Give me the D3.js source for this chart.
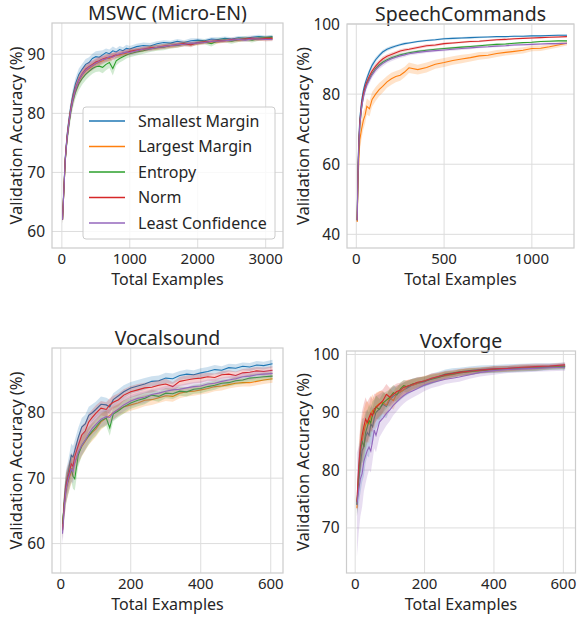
<!DOCTYPE html>
<html>
<head>
<meta charset="utf-8">
<script src="https://cdn.jsdelivr.net/npm/d3@7"></script>
<style>
  body { margin: 0; background: #fff; }
  svg { display: block; }
  text { font-family: "Noto Sans", "Open Sans", sans-serif; fill: #262626; }
</style>
</head>
<body>
<svg id="chart" width="577" height="617"></svg>
<script>
const methods = ['Smallest Margin', 'Largest Margin', 'Entropy', 'Norm', 'Least Confidence'];
const colors = ['#1f77b4', '#ff7f0e', '#2ca02c', '#d62728', '#9467bd'];

// MSWC (Micro-EN)
const mswcX = [10, 30, 50, 75, 100, 130, 160, 200, 250, 300, 350, 400, 450, 500, 550, 600, 650, 700, 750, 800, 850, 900, 950, 1000, 1100, 1200, 1300, 1400, 1500, 1600, 1700, 1800, 1900, 2000, 2100, 2200, 2300, 2400, 2500, 2600, 2700, 2800, 2900, 3000, 3100];
const mswcSmallest = [62.0, 67.5, 72.5, 76.0, 78.5, 81.0, 83.0, 85.0, 86.6, 87.5, 88.3, 88.6, 89.3, 89.6, 89.5, 89.9, 90.3, 90.1, 90.6, 90.4, 90.8, 90.6, 91.0, 90.9, 91.3, 91.5, 91.4, 91.8, 92.0, 91.9, 92.2, 92.0, 92.3, 92.4, 92.3, 92.6, 92.5, 92.7, 92.6, 92.8, 92.7, 92.9, 93.0, 92.9, 93.0];
const mswcLargest = [62.0, 67.0, 72.0, 75.5, 78.0, 80.5, 82.3, 84.0, 85.5, 86.5, 87.2, 87.6, 88.0, 88.4, 88.7, 88.9, 89.3, 89.3, 89.6, 89.8, 89.9, 90.1, 90.2, 90.4, 90.6, 90.8, 91.0, 91.1, 91.3, 91.4, 91.5, 91.7, 91.8, 91.8, 92.0, 92.1, 92.1, 92.3, 92.3, 92.4, 92.5, 92.5, 92.6, 92.5, 92.6];
const mswcEntropy = [62.0, 67.0, 72.0, 75.5, 77.8, 80.2, 82.0, 83.6, 85.0, 85.9, 86.6, 87.1, 87.6, 87.9, 88.0, 87.8, 88.3, 88.6, 87.6, 88.9, 89.3, 89.6, 89.9, 90.1, 90.4, 90.6, 90.9, 91.1, 91.2, 91.5, 91.5, 91.8, 91.7, 92.0, 92.1, 91.8, 92.3, 92.4, 92.2, 92.5, 92.6, 92.4, 92.7, 92.8, 92.9];
const mswcNorm = [62.0, 67.2, 72.3, 75.8, 78.2, 80.6, 82.4, 84.2, 85.7, 86.7, 87.5, 87.9, 88.3, 88.7, 88.9, 89.2, 89.4, 89.5, 89.7, 89.9, 90.0, 90.2, 90.3, 90.5, 90.7, 90.9, 91.1, 91.2, 91.4, 91.5, 91.7, 91.8, 91.6, 92.0, 92.1, 92.2, 92.3, 92.3, 92.5, 92.5, 92.6, 92.7, 92.6, 92.7, 92.7];
const mswcLeast = [62.0, 67.0, 72.1, 75.6, 78.0, 80.4, 82.2, 84.0, 85.6, 86.6, 87.3, 87.8, 88.1, 88.5, 88.8, 89.1, 89.2, 89.6, 89.5, 89.9, 90.1, 90.2, 90.4, 90.3, 90.6, 90.9, 90.9, 91.2, 91.3, 91.5, 91.6, 91.7, 91.9, 91.9, 92.0, 92.2, 92.2, 92.3, 92.4, 92.5, 92.4, 92.6, 92.6, 92.5, 92.5];
const mswcSmallestSd = [0.6, 1.2, 1.4, 1.4, 1.3, 1.2, 1.1, 1.0, 1.0, 0.9, 0.9, 0.9, 0.8, 0.9, 1.1, 0.8, 0.7, 0.7, 0.7, 0.6, 0.6, 0.6, 0.6, 0.5, 0.5, 0.5, 0.5, 0.4, 0.4, 0.4, 0.4, 0.4, 0.4, 0.3, 0.3, 0.3, 0.4, 0.3, 0.3, 0.3, 0.4, 0.3, 0.3, 0.3, 0.3];
const mswcLargestSd = [0.6, 1.0, 1.2, 1.2, 1.1, 1.0, 1.0, 0.9, 0.9, 0.8, 0.8, 0.7, 0.7, 0.7, 0.7, 0.6, 0.6, 0.6, 0.6, 0.5, 0.5, 0.5, 0.5, 0.5, 0.4, 0.4, 0.4, 0.4, 0.4, 0.4, 0.4, 0.4, 0.3, 0.3, 0.3, 0.3, 0.3, 0.3, 0.3, 0.3, 0.3, 0.3, 0.3, 0.3, 0.3];
const mswcEntropySd = [0.6, 1.2, 1.4, 1.4, 1.4, 1.3, 1.2, 1.1, 1.1, 1.0, 1.0, 0.9, 0.9, 0.9, 0.9, 1.0, 1.0, 0.9, 1.2, 0.8, 0.7, 0.7, 0.6, 0.6, 0.6, 0.5, 0.5, 0.5, 0.5, 0.5, 0.4, 0.4, 0.4, 0.4, 0.4, 0.5, 0.4, 0.4, 0.4, 0.4, 0.4, 0.4, 0.4, 0.3, 0.3];
const mswcNormSd = [0.6, 1.1, 1.2, 1.2, 1.1, 1.0, 1.0, 0.9, 0.9, 0.8, 0.8, 0.8, 0.7, 0.7, 0.7, 0.6, 0.6, 0.6, 0.6, 0.5, 0.5, 0.5, 0.5, 0.5, 0.4, 0.4, 0.4, 0.4, 0.4, 0.4, 0.4, 0.4, 0.4, 0.3, 0.3, 0.3, 0.3, 0.3, 0.3, 0.3, 0.3, 0.3, 0.3, 0.3, 0.3];
const mswcLeastSd = [0.6, 1.1, 1.3, 1.3, 1.2, 1.1, 1.0, 0.9, 0.9, 0.9, 0.8, 0.8, 0.8, 0.7, 0.7, 0.7, 0.6, 0.6, 0.6, 0.6, 0.5, 0.5, 0.5, 0.5, 0.5, 0.4, 0.4, 0.4, 0.4, 0.4, 0.4, 0.4, 0.4, 0.3, 0.3, 0.3, 0.3, 0.3, 0.3, 0.3, 0.3, 0.3, 0.3, 0.3, 0.3];

// SpeechCommands
const scX = [5, 10, 15, 20, 30, 40, 50, 60, 75, 90, 110, 130, 150, 175, 200, 225, 250, 275, 300, 350, 400, 450, 500, 550, 600, 650, 700, 750, 800, 850, 900, 950, 1000, 1050, 1100, 1150, 1200];
const scSmallest = [44.0, 60.0, 68.0, 73.0, 78.0, 81.0, 83.0, 84.5, 86.5, 88.2, 89.8, 91.0, 92.0, 92.8, 93.3, 93.7, 94.1, 94.4, 94.6, 95.0, 95.3, 95.5, 95.8, 95.9, 96.0, 96.1, 96.2, 96.3, 96.4, 96.4, 96.5, 96.5, 96.6, 96.6, 96.7, 96.8, 96.8];
const scLargest = [43.5, 55.0, 62.0, 67.0, 70.0, 72.5, 74.0, 76.5, 75.8, 78.5, 80.0, 81.3, 82.2, 83.5, 84.4, 85.0, 85.4, 86.3, 87.5, 87.0, 87.6, 88.5, 89.0, 89.6, 90.0, 90.4, 90.9, 91.1, 91.6, 91.9, 92.2, 92.5, 93.0, 93.1, 93.5, 94.0, 94.5];
const scEntropy = [44.0, 58.0, 66.0, 71.0, 76.0, 79.5, 81.5, 83.0, 84.5, 85.9, 87.3, 88.3, 89.1, 89.8, 90.4, 90.8, 91.2, 91.5, 91.8, 92.2, 92.5, 92.8, 93.0, 93.2, 93.4, 93.6, 93.8, 94.0, 94.2, 94.3, 94.5, 94.7, 94.8, 95.0, 95.1, 95.2, 95.2];
const scNorm = [44.0, 59.0, 67.0, 72.0, 77.0, 80.0, 82.0, 83.5, 85.2, 86.6, 88.0, 89.1, 90.0, 90.8, 91.3, 91.8, 92.3, 92.6, 92.8, 93.3, 93.8, 94.0, 94.4, 94.6, 94.8, 95.0, 95.1, 95.3, 95.5, 95.6, 95.8, 95.9, 96.0, 96.1, 96.2, 96.3, 96.4];
const scLeast = [44.0, 58.0, 66.0, 71.0, 76.0, 79.0, 81.0, 82.6, 84.1, 85.5, 86.9, 87.9, 88.7, 89.5, 90.1, 90.5, 90.9, 91.2, 91.5, 91.9, 92.2, 92.4, 92.6, 92.8, 93.0, 93.2, 93.4, 93.5, 93.7, 93.8, 94.0, 94.1, 94.2, 94.3, 94.4, 94.4, 94.5];
const scSmallestSd = [0.5, 1.5, 1.5, 1.3, 1.2, 1.0, 0.9, 0.9, 0.8, 0.8, 0.7, 0.6, 0.6, 0.5, 0.5, 0.4, 0.4, 0.4, 0.3, 0.3, 0.3, 0.3, 0.3, 0.3, 0.3, 0.3, 0.3, 0.2, 0.2, 0.2, 0.2, 0.2, 0.2, 0.2, 0.2, 0.2, 0.2];
const scLargestSd = [0.5, 2.5, 3.0, 3.0, 2.8, 2.6, 2.4, 2.3, 2.2, 2.1, 2.0, 1.9, 1.8, 1.7, 1.7, 1.6, 1.6, 1.5, 1.5, 1.4, 1.4, 1.3, 1.3, 1.2, 1.2, 1.1, 1.1, 1.0, 1.0, 0.9, 0.9, 0.9, 0.8, 0.8, 0.7, 0.7, 0.6];
const scEntropySd = [0.5, 1.5, 1.5, 1.4, 1.2, 1.1, 1.0, 0.9, 0.8, 0.8, 0.7, 0.7, 0.6, 0.6, 0.5, 0.5, 0.5, 0.4, 0.4, 0.4, 0.4, 0.3, 0.3, 0.3, 0.3, 0.3, 0.3, 0.3, 0.3, 0.3, 0.2, 0.2, 0.2, 0.2, 0.2, 0.2, 0.2];
const scNormSd = [0.5, 1.5, 1.5, 1.4, 1.3, 1.1, 1.0, 0.9, 0.9, 0.8, 0.8, 0.7, 0.7, 0.6, 0.6, 0.5, 0.5, 0.5, 0.4, 0.4, 0.4, 0.4, 0.3, 0.3, 0.3, 0.3, 0.3, 0.3, 0.3, 0.3, 0.3, 0.2, 0.2, 0.2, 0.2, 0.2, 0.2];
const scLeastSd = [0.5, 1.6, 1.6, 1.5, 1.4, 1.2, 1.1, 1.0, 1.0, 0.9, 0.9, 0.8, 0.8, 0.7, 0.7, 0.6, 0.6, 0.6, 0.5, 0.5, 0.5, 0.4, 0.4, 0.4, 0.4, 0.4, 0.3, 0.3, 0.3, 0.3, 0.3, 0.3, 0.3, 0.3, 0.3, 0.3, 0.3];

// Vocalsound
const vsX = [5, 10, 15, 20, 25, 30, 35, 40, 50, 60, 70, 80, 90, 100, 115, 130, 140, 150, 165, 180, 200, 220, 240, 260, 280, 300, 320, 340, 360, 380, 400, 420, 440, 460, 480, 500, 520, 540, 560, 580, 605];
const vsSmallest = [62.0, 66.5, 69.3, 70.5, 72.0, 73.5, 73.2, 74.2, 76.2, 77.8, 78.3, 79.6, 80.0, 80.5, 81.3, 81.2, 80.9, 82.0, 82.6, 83.2, 83.8, 84.1, 84.4, 84.8, 84.9, 85.3, 85.2, 85.7, 85.9, 85.8, 86.1, 86.3, 86.6, 86.5, 86.9, 86.8, 87.1, 87.0, 87.3, 87.2, 87.5];
const vsLargest = [62.5, 66.0, 68.2, 69.3, 70.2, 71.0, 71.6, 72.3, 73.8, 74.8, 75.6, 76.4, 77.0, 77.5, 78.6, 79.2, 79.6, 80.0, 80.5, 80.9, 81.2, 81.5, 81.9, 82.0, 82.3, 82.6, 82.5, 83.0, 83.2, 83.3, 83.5, 83.7, 84.0, 84.1, 84.3, 84.5, 84.6, 84.6, 84.8, 85.0, 85.2];
const vsEntropy = [63.0, 66.0, 68.5, 69.5, 70.5, 71.5, 70.3, 69.9, 73.5, 75.0, 75.8, 76.5, 77.2, 77.8, 78.8, 79.2, 77.7, 79.8, 80.3, 80.9, 81.5, 81.9, 82.2, 82.7, 82.5, 83.0, 82.9, 83.3, 83.2, 83.6, 83.7, 84.0, 84.2, 84.5, 84.6, 84.9, 85.0, 85.3, 85.4, 85.5, 85.6];
const vsNorm = [62.0, 66.0, 68.8, 70.0, 71.0, 72.2, 71.8, 73.3, 75.0, 76.6, 77.2, 78.6, 79.3, 79.9, 80.7, 80.5, 81.2, 81.6, 82.0, 82.7, 83.2, 83.5, 83.8, 83.9, 84.2, 84.4, 84.0, 84.8, 85.0, 85.2, 85.3, 85.5, 85.4, 85.8, 85.9, 85.7, 86.1, 86.2, 86.4, 86.3, 86.5];
const vsLeast = [61.5, 65.5, 68.3, 69.5, 70.5, 71.4, 71.0, 72.4, 74.0, 75.0, 75.8, 76.8, 77.6, 78.2, 79.0, 79.4, 79.3, 80.0, 80.6, 81.2, 81.8, 82.2, 82.4, 82.8, 83.0, 83.3, 83.5, 83.6, 83.8, 84.0, 84.1, 84.4, 84.5, 84.8, 85.0, 85.2, 85.5, 85.6, 85.8, 85.9, 86.0];
const vsSmallestSd = [1.5, 2.0, 2.0, 1.9, 1.8, 1.8, 1.7, 1.6, 1.5, 1.4, 1.4, 1.3, 1.3, 1.2, 1.2, 1.1, 1.1, 1.0, 1.0, 1.0, 0.9, 0.9, 0.9, 0.8, 0.8, 0.8, 0.8, 0.7, 0.7, 0.7, 0.7, 0.7, 0.7, 0.6, 0.6, 0.6, 0.6, 0.6, 0.6, 0.6, 0.6];
const vsLargestSd = [1.5, 2.2, 2.2, 2.1, 2.0, 1.9, 1.8, 1.7, 1.6, 1.5, 1.4, 1.3, 1.3, 1.2, 1.2, 1.1, 1.1, 1.0, 1.0, 1.0, 0.9, 0.9, 0.9, 0.8, 0.8, 0.8, 0.8, 0.8, 0.7, 0.7, 0.7, 0.7, 0.7, 0.7, 0.6, 0.6, 0.6, 0.6, 0.6, 0.6, 0.6];
const vsEntropySd = [1.5, 2.2, 2.3, 2.2, 2.1, 2.0, 1.9, 1.8, 1.7, 1.6, 1.5, 1.4, 1.3, 1.3, 1.2, 1.2, 1.2, 1.1, 1.0, 1.0, 0.9, 0.9, 0.9, 0.8, 0.8, 0.8, 0.8, 0.7, 0.7, 0.7, 0.7, 0.7, 0.7, 0.6, 0.6, 0.6, 0.6, 0.6, 0.6, 0.6, 0.6];
const vsNormSd = [1.5, 2.0, 2.0, 1.9, 1.8, 1.7, 1.7, 1.6, 1.5, 1.4, 1.4, 1.3, 1.2, 1.2, 1.1, 1.1, 1.0, 1.0, 1.0, 0.9, 0.9, 0.9, 0.8, 0.8, 0.8, 0.8, 0.7, 0.7, 0.7, 0.7, 0.7, 0.6, 0.6, 0.6, 0.6, 0.6, 0.6, 0.6, 0.6, 0.6, 0.6];
const vsLeastSd = [1.8, 2.2, 2.2, 2.1, 2.0, 1.9, 1.8, 1.7, 1.6, 1.5, 1.4, 1.4, 1.3, 1.3, 1.2, 1.2, 1.1, 1.1, 1.0, 1.0, 0.9, 0.9, 0.9, 0.8, 0.8, 0.8, 0.8, 0.7, 0.7, 0.7, 0.7, 0.7, 0.7, 0.6, 0.6, 0.6, 0.6, 0.6, 0.6, 0.6, 0.6];

// Voxforge
const vfX = [5, 10, 15, 20, 25, 30, 35, 40, 45, 50, 55, 60, 70, 80, 90, 100, 110, 120, 130, 140, 150, 165, 180, 200, 220, 240, 260, 280, 300, 330, 360, 400, 440, 480, 520, 560, 605];
const vfSmallest = [74.0, 78.0, 81.0, 83.4, 84.0, 85.7, 86.5, 86.0, 88.0, 87.5, 89.0, 90.0, 90.6, 91.4, 91.0, 92.2, 92.8, 93.1, 93.5, 93.9, 94.2, 94.7, 95.0, 95.3, 95.8, 96.2, 96.6, 96.8, 97.0, 97.2, 97.4, 97.5, 97.6, 97.7, 97.8, 97.9, 98.0];
const vfLargest = [73.4, 79.5, 83.5, 85.0, 86.5, 87.8, 88.5, 88.0, 89.5, 90.3, 89.8, 91.0, 91.5, 91.7, 91.2, 92.5, 92.0, 93.2, 93.5, 93.9, 94.5, 94.7, 95.0, 95.5, 95.8, 96.1, 96.3, 96.5, 96.8, 97.0, 97.2, 97.4, 97.5, 97.6, 97.7, 97.8, 97.9];
const vfEntropy = [74.0, 79.0, 83.0, 85.1, 84.0, 86.5, 87.5, 88.6, 88.2, 89.6, 90.0, 90.9, 90.5, 91.6, 92.1, 92.6, 93.4, 93.0, 94.0, 94.6, 94.4, 94.9, 95.1, 95.4, 95.7, 96.0, 96.4, 96.6, 96.8, 97.0, 97.2, 97.4, 97.5, 97.6, 97.7, 97.8, 97.9];
const vfNorm = [74.5, 80.5, 84.0, 86.0, 87.5, 88.8, 88.2, 89.1, 89.8, 89.4, 90.6, 90.8, 91.4, 92.0, 93.1, 92.6, 93.1, 93.6, 93.8, 94.3, 94.5, 94.8, 95.2, 95.4, 95.9, 96.2, 96.5, 96.7, 96.9, 97.1, 97.3, 97.5, 97.6, 97.8, 97.9, 98.0, 98.2];
const vfLeast = [74.0, 76.5, 78.5, 79.4, 81.5, 82.5, 83.4, 84.0, 83.3, 85.0, 86.9, 86.0, 88.3, 89.0, 89.8, 90.4, 91.2, 91.8, 92.4, 92.9, 93.3, 93.7, 94.1, 94.7, 95.1, 95.4, 95.7, 95.9, 96.1, 96.5, 96.9, 97.2, 97.4, 97.5, 97.6, 97.7, 97.8];
const vfSmallestSd = [2.0, 4.0, 5.0, 5.5, 5.0, 4.5, 4.0, 3.8, 3.5, 3.2, 3.0, 2.8, 2.5, 2.2, 2.0, 1.8, 1.6, 1.5, 1.4, 1.3, 1.2, 1.1, 1.0, 0.9, 0.9, 0.8, 0.8, 0.8, 0.7, 0.7, 0.7, 0.7, 0.7, 0.7, 0.7, 0.6, 0.6];
const vfLargestSd = [1.5, 3.5, 4.0, 4.2, 4.0, 3.8, 3.5, 3.3, 3.0, 2.8, 2.6, 2.4, 2.2, 2.0, 1.8, 1.6, 1.5, 1.4, 1.3, 1.2, 1.1, 1.0, 0.9, 0.8, 0.8, 0.7, 0.7, 0.6, 0.6, 0.6, 0.5, 0.5, 0.5, 0.5, 0.5, 0.4, 0.4];
const vfEntropySd = [1.5, 3.0, 3.5, 3.5, 3.3, 3.1, 2.9, 2.7, 2.5, 2.3, 2.2, 2.0, 1.8, 1.7, 1.5, 1.4, 1.3, 1.2, 1.1, 1.0, 1.0, 0.9, 0.9, 0.8, 0.8, 0.7, 0.7, 0.6, 0.6, 0.6, 0.5, 0.5, 0.5, 0.5, 0.5, 0.4, 0.4];
const vfNormSd = [1.5, 3.5, 4.0, 4.2, 4.0, 3.8, 3.5, 3.3, 3.0, 2.8, 2.6, 2.4, 2.2, 2.0, 1.8, 1.6, 1.5, 1.4, 1.3, 1.2, 1.1, 1.0, 0.9, 0.8, 0.8, 0.7, 0.7, 0.6, 0.6, 0.6, 0.5, 0.5, 0.5, 0.5, 0.5, 0.4, 0.4];
const vfLeastSd = [9.0, 7.5, 6.5, 5.8, 5.2, 4.8, 4.4, 4.0, 3.7, 3.4, 3.1, 2.9, 2.6, 2.3, 2.1, 1.9, 1.7, 1.6, 1.5, 1.4, 1.3, 1.2, 1.1, 1.0, 0.9, 0.9, 0.8, 0.8, 0.8, 0.7, 0.7, 0.7, 0.6, 0.6, 0.6, 0.6, 0.6];

const panels = [
  {
    title: 'MSWC (Micro-EN)', x: mswcX,
    means: [mswcSmallest, mswcLargest, mswcEntropy, mswcNorm, mswcLeast],
    sds: [mswcSmallestSd, mswcLargestSd, mswcEntropySd, mswcNormSd, mswcLeastSd],
    xDomain: [-145, 3255], yDomain: [57.2, 95.3],
    xTicks: [0, 1000, 2000, 3000], yTicks: [60, 70, 80, 90],
    box: { left: 52, right: 283, top: 23, bottom: 248 }, labelX: 15, legend: true
  },
  {
    title: 'SpeechCommands', x: scX,
    means: [scSmallest, scLargest, scEntropy, scNorm, scLeast],
    sds: [scSmallestSd, scLargestSd, scEntropySd, scNormSd, scLeastSd],
    xDomain: [-53, 1240], yDomain: [36.1, 100],
    xTicks: [0, 500, 1000], yTicks: [40, 60, 80, 100],
    box: { left: 347, right: 574, top: 24, bottom: 248 }, labelX: 302
  },
  {
    title: 'Vocalsound', x: vsX,
    means: [vsSmallest, vsLargest, vsEntropy, vsNorm, vsLeast],
    sds: [vsSmallestSd, vsLargestSd, vsEntropySd, vsNormSd, vsLeastSd],
    xDomain: [-25, 635], yDomain: [55.5, 89.9],
    xTicks: [0, 200, 400, 600], yTicks: [60, 70, 80],
    box: { left: 52, right: 283, top: 348, bottom: 573 }, labelX: 15
  },
  {
    title: 'Voxforge', x: vfX,
    means: [vfSmallest, vfLargest, vfEntropy, vfNorm, vfLeast],
    sds: [vfSmallestSd, vfLargestSd, vfEntropySd, vfNormSd, vfLeastSd],
    xDomain: [-25, 635], yDomain: [62.2, 100.6],
    xTicks: [0, 200, 400, 600], yTicks: [70, 80, 90, 100],
    box: { left: 346.5, right: 575.5, top: 351, bottom: 573 }, labelX: 302
  }
];

const svg = d3.select('#chart');

panels.forEach((p, pi) => {
  const b = p.box;
  const x = d3.scaleLinear().domain(p.xDomain).range([b.left, b.right]);
  const y = d3.scaleLinear().domain(p.yDomain).range([b.bottom, b.top]);
  const g = svg.append('g');

  // grid
  g.selectAll('.gx').data(p.xTicks).enter().append('line')
    .attr('x1', (d) => x(d)).attr('x2', (d) => x(d))
    .attr('y1', b.top).attr('y2', b.bottom)
    .attr('stroke', '#dddddd').attr('stroke-width', 1);
  g.selectAll('.gy').data(p.yTicks).enter().append('line')
    .attr('x1', b.left).attr('x2', b.right)
    .attr('y1', (d) => y(d)).attr('y2', (d) => y(d))
    .attr('stroke', '#dddddd').attr('stroke-width', 1);

  // tick labels
  g.selectAll('.tx').data(p.xTicks).enter().append('text')
    .attr('x', (d) => x(d)).attr('y', b.bottom + 16)
    .attr('text-anchor', 'middle').style('font-size', '15px')
    .text((d) => d);
  g.selectAll('.ty').data(p.yTicks).enter().append('text')
    .attr('x', b.left - 7).attr('y', (d) => y(d) + 5.5)
    .attr('text-anchor', 'end').style('font-size', '15.5px')
    .text((d) => d);

  // axis labels and title
  g.append('text')
    .attr('x', (b.left + b.right) / 2).attr('y', b.bottom + 37)
    .attr('text-anchor', 'middle').style('font-size', '16px')
    .text('Total Examples');
  g.append('text')
    .attr('transform', `translate(${p.labelX},${(b.top + b.bottom) / 2}) rotate(-90)`)
    .attr('text-anchor', 'middle').attr('dominant-baseline', 'central')
    .style('font-size', '16.5px')
    .text('Validation Accuracy (%)');
  g.append('text')
    .attr('x', (b.left + b.right) / 2).attr('y', b.top - 3)
    .attr('text-anchor', 'middle').style('font-size', '19.5px')
    .text(p.title);

  const clipId = 'clip' + pi;
  svg.append('clipPath').attr('id', clipId).append('rect')
    .attr('x', b.left).attr('y', b.top)
    .attr('width', b.right - b.left).attr('height', b.bottom - b.top);

  const plot = g.append('g').attr('clip-path', `url(#${clipId})`);

  p.means.forEach((m, si) => {
    const sd = p.sds[si];
    const rows = p.x.map((xv, i) => ({ x: xv, m: m[i], lo: m[i] - sd[i], hi: m[i] + sd[i] }));
    const area = d3.area()
      .x((d) => x(d.x)).y0((d) => y(d.lo)).y1((d) => y(d.hi));
    const line = d3.line()
      .x((d) => x(d.x)).y((d) => y(d.m));
    plot.append('path').datum(rows)
      .attr('d', area).attr('fill', colors[si]).attr('fill-opacity', 0.22);
    plot.append('path').datum(rows)
      .attr('d', line).attr('fill', 'none')
      .attr('stroke', colors[si]).attr('stroke-width', 1.1);
  });

  // frame
  g.append('rect')
    .attr('x', b.left).attr('y', b.top)
    .attr('width', b.right - b.left).attr('height', b.bottom - b.top)
    .attr('fill', 'none').attr('stroke', '#cccccc').attr('stroke-width', 1.2);

  if (p.legend) {
    const lg = g.append('g');
    lg.append('rect')
      .attr('x', 83).attr('y', 107).attr('width', 192).attr('height', 132)
      .attr('rx', 3).attr('fill', '#ffffff').attr('fill-opacity', 0.8)
      .attr('stroke', '#cccccc');
    methods.forEach((name, i) => {
      const yy = 121 + i * 25.5;
      lg.append('line')
        .attr('x1', 89).attr('x2', 125).attr('y1', yy).attr('y2', yy)
        .attr('stroke', colors[i]).attr('stroke-width', 1.5);
      lg.append('text')
        .attr('x', 138).attr('y', yy + 5.5).style('font-size', '16px')
        .text(name);
    });
  }
});
</script>
</body>
</html>
